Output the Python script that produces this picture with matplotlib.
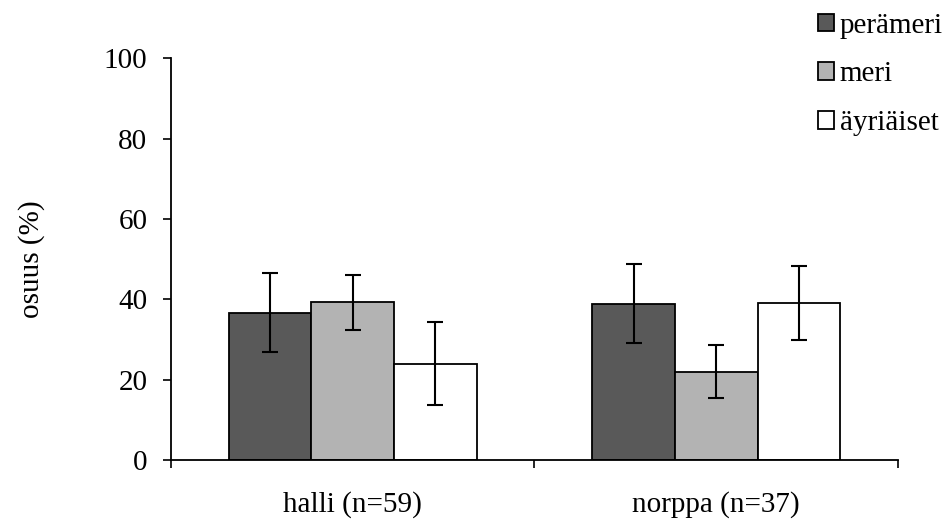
import numpy as np
import matplotlib.pyplot as plt

plt.rcParams['font.family'] = ['Liberation Serif', 'DejaVu Serif']

groups = ["halli (n=59)", "norppa (n=37)"]
series = ["perämeri", "meri", "äyriäiset"]
values = {
    "perämeri": [36.7, 38.9],
    "meri": [39.3, 22.1],
    "äyriäiset": [24.0, 39.2],
}
errors = {
    "perämeri": [9.8, 9.8],
    "meri": [6.8, 6.5],
    "äyriäiset": [10.3, 9.2],
}
colors = ["#595959", "#b3b3b3", "#ffffff"]

fig = plt.figure(figsize=(9.53, 5.25), dpi=100)
ax = fig.add_axes([0.1794, 0.1229, 0.7629, 0.7666])

x = np.arange(len(groups))
w = 0.227
for i, s in enumerate(series):
    ax.bar(x + (i - 1) * w, values[s], w, color=colors[i], edgecolor="black",
           linewidth=1.3, label=s, zorder=2)
    ax.errorbar(x + (i - 1) * w, values[s], yerr=errors[s], fmt="none",
                ecolor="black", elinewidth=1.5, capsize=5.5, capthick=1.5, zorder=3)

ax.set_xlim(-0.5, 1.5)
ax.set_ylim(0, 100)
ax.set_yticks([0, 20, 40, 60, 80, 100])
ax.set_xticks([-0.5, 0.5, 1.5])
ax.set_xticklabels([])
ax.set_xticks(x, minor=True)
ax.set_xticklabels(groups, minor=True)
ax.tick_params(axis="x", which="minor", length=0, pad=22, labelsize=21)
ax.tick_params(axis="x", which="major", length=6, width=1.2, direction="out")
ax.tick_params(axis="y", length=6, width=1.2, direction="out", labelsize=21, pad=11)
for side in ["top", "right"]:
    ax.spines[side].set_visible(False)
for side in ["left", "bottom"]:
    ax.spines[side].set_linewidth(1.3)

ax.set_ylabel("osuus (%)", fontsize=21, labelpad=42)

fig.legend(loc="upper left", bbox_to_anchor=(0.852, 0.987), frameon=False,
           fontsize=21, handlelength=0.55, handleheight=0.55, handletextpad=0.2,
           labelspacing=0.78, borderaxespad=0.0, borderpad=0.2)

fig.savefig("out.png", dpi=100)
